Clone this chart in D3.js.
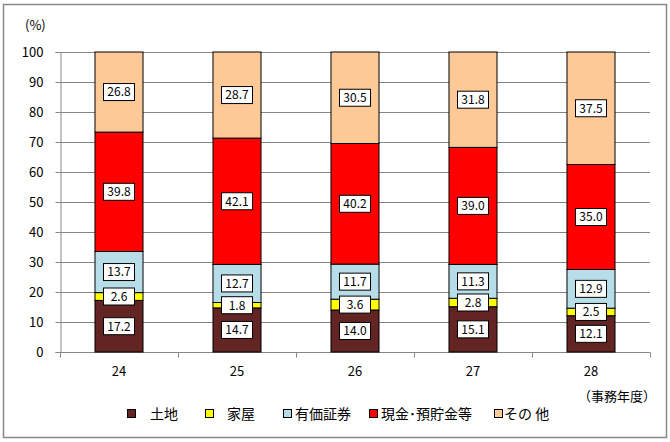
<!DOCTYPE html>
<html><head><meta charset="utf-8">
<script src="https://cdn.jsdelivr.net/npm/d3@7"></script>
<style>body{margin:0;background:#fff}svg{display:block}text{font-family:"Noto Sans CJK JP","Noto Sans",sans-serif}</style>
</head><body><svg id="c" width="670" height="442"></svg>
<script>
const years = ["24","25","26","27","28"];
const seriesNames = ["土地","家屋","有価証券","現金･預貯金等","その他"];
const land = [17.2,14.7,14.0,15.1,12.1];
const house = [2.6,1.8,3.6,2.8,2.5];
const securities = [13.7,12.7,11.7,11.3,12.9];
const cash = [39.8,42.1,40.2,39.0,35.0];
const other = [26.8,28.7,30.5,31.8,37.5];
const yTicks = [0,10,20,30,40,50,60,70,80,90,100];
const colors = ["#632523","#FFFF00","#B7DEE8","#FF0000","#FCC997"];
const legendLabels = ["土地","家屋","有価証券","現金･預貯金等","その 他"];

const svg = d3.select("#c");
svg.append("rect").attr("x",3.5).attr("y",4.5).attr("width",663).attr("height",433)
  .attr("fill","#fff").attr("stroke","#888").attr("stroke-width",1.5);

const m = {l:60,r:650,t:52,b:352};
const x = d3.scaleBand().domain(years).range([m.l,m.r]).paddingInner(0.593).paddingOuter(0.2965);
const y = d3.scaleLinear().domain([0,100]).range([m.b,m.t]);

// gridlines
svg.append("g").selectAll("line").data(yTicks.filter(d=>d>0)).join("line")
  .attr("x1",m.l).attr("x2",m.r).attr("y1",d=>Math.round(y(d))+0.5).attr("y2",d=>Math.round(y(d))+0.5)
  .attr("stroke","#868686").attr("stroke-width",1);

// y axis
const ya = svg.append("g").attr("transform",`translate(${m.l+0.5},0)`)
  .call(d3.axisLeft(y).tickValues(yTicks).tickSize(5).tickPadding(12));
ya.select(".domain").attr("stroke","#868686");
ya.selectAll(".tick line").attr("stroke","#868686");
ya.selectAll("text").attr("font-size",13).attr("fill","#000");

// x axis
const xa = svg.append("g").attr("transform",`translate(0,${m.b+0.5})`);
xa.append("line").attr("x1",m.l).attr("x2",m.r).attr("stroke","#868686");
const bounds = d3.range(6).map(i=>m.l + i*(m.r-m.l)/5);
xa.selectAll(".bt").data(bounds).join("line").attr("class","bt")
  .attr("x1",d=>Math.round(d)+0.5).attr("x2",d=>Math.round(d)+0.5).attr("y1",0).attr("y2",5).attr("stroke","#868686");
xa.selectAll(".xl").data(years).join("text").attr("class","xl")
  .attr("x",d=>x(d)+x.bandwidth()/2).attr("y",23).attr("text-anchor","middle")
  .attr("font-size",13).text(d=>d);

// stacked data
const table = years.map((yr,i)=>({year:yr,s0:land[i],s1:house[i],s2:securities[i],s3:cash[i],s4:other[i]}));
const keys = ["s0","s1","s2","s3","s4"];
const stack = d3.stack().keys(keys)(table);

const layers = svg.append("g").selectAll("g").data(stack).join("g").attr("fill",(d,i)=>colors[i]);
layers.selectAll("rect").data(d=>d).join("rect")
  .attr("x",d=>x(d.data.year)).attr("width",x.bandwidth())
  .attr("y",d=>y(Math.min(d[1],100))).attr("height",d=>y(d[0])-y(Math.min(d[1],100)))
  .attr("stroke","#000").attr("stroke-width",1);

// labels
const lab = svg.append("g");
stack.forEach((layer)=>{
  layer.forEach(d=>{
    const cx = x(d.data.year)+x.bandwidth()/2;
    const cy = (y(d[0])+y(Math.min(d[1],100)))/2;
    const g = lab.append("g").attr("transform",`translate(${cx},${cy})`);
    const v = (d[1]-d[0]).toFixed(1);
    g.append("rect").attr("x",-15.5).attr("y",-8.5).attr("width",31).attr("height",17)
      .attr("fill","#fff").attr("stroke","#000").attr("stroke-width",1);
    g.append("text").attr("text-anchor","middle").attr("dy","0.36em").attr("font-size",12).text(v);
  });
});

// units
svg.append("text").attr("x",25).attr("y",30).attr("font-size",13).text("(%)");
svg.append("text").attr("x",578).attr("y",401).attr("font-size",13).text("（事務年度）");

// legend
const legX = [127,205,283,369,494];
const leg = svg.append("g").selectAll("g").data(legendLabels).join("g")
  .attr("transform",(d,i)=>`translate(${legX[i]},414)`);
leg.append("rect").attr("x",0.5).attr("y",-4.5).attr("width",8).attr("height",8)
  .attr("fill",(d,i)=>colors[i]).attr("stroke","#000");
leg.append("text").attr("x",(d,i)=>[23,22,12,12,10][i]).attr("y",0).attr("dy","0.36em")
  .attr("font-size",14).text(d=>d);
</script></body></html>
